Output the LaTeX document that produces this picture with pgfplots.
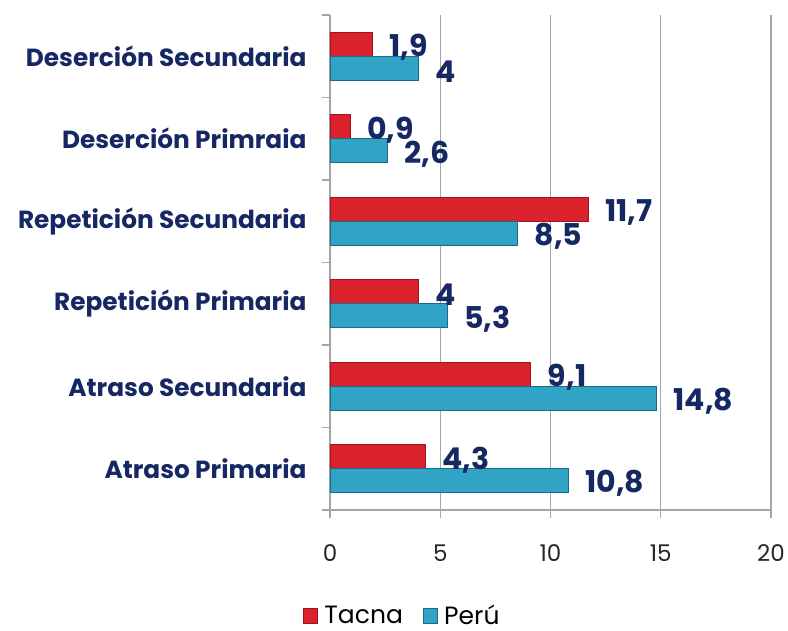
\documentclass[border=0pt]{standalone}
\usepackage{pgfplots}
\pgfplotsset{compat=1.18}
\usepackage{pgfplotstable}
\usepackage{fontspec}
\setmainfont{Poppins}
\definecolor{navy}{RGB}{22,40,100}
\definecolor{tacna}{RGB}{218,34,44}
\definecolor{tacnaedge}{RGB}{160,20,30}
\definecolor{peru}{RGB}{49,163,197}
\definecolor{peruedge}{RGB}{30,105,135}
\definecolor{gridgray}{RGB}{165,165,165}

\pgfplotstableread{
y x lab
0 4.3 4,3
1 9.1 9,1
2 4 4
3 11.7 11,7
4 0.9 0,9
5 1.9 1,9
}\tacnadata
\pgfplotstableread{
y x lab
0 10.8 10,8
1 14.8 14,8
2 5.3 5,3
3 8.5 8,5
4 2.6 2,6
5 4 4
}\perudata

\begin{document}
\begin{tikzpicture}
\useasboundingbox (-330bp,-121bp) rectangle (458bp,510bp);
\begin{axis}[
  at={(0,0)}, anchor=south west,
  scale only axis, width=441bp, height=495bp,
  xmin=0, xmax=20, ymin=-0.5, ymax=5.5,
  xbar, bar width=24bp,
  axis x line=bottom, axis y line=left,
  axis line style={-, draw=gridgray, line width=1.2pt},
  xtick={0,5,10,15,20},
  ytick={0,1,2,3,4,5},
  minor ytick={-0.5,0.5,1.5,2.5,3.5,4.5,5.5},
  yticklabels={Atraso Primaria, Atraso Secundaria, Repetición Primaria, Repetición Secundaria, Deserción Primraia, Deserción Secundaria},
  major tick length=8bp, minor tick length=8bp,
  tick align=outside,
  tick style={draw=gridgray, line width=1.2pt},
  major y tick style={draw=none},
  minor y tick style={draw=gridgray, line width=1.2pt},
  xmajorgrids, grid style={draw=gridgray, line width=1.2pt},
  /pgf/number format/assume math mode=true,
  xticklabel style={font=\fontsize{23bp}{27bp}\selectfont, text=black!85, yshift=-23bp},
  yticklabel style={font=\fontsize{24.8bp}{28bp}\selectfont\bfseries, text=navy, anchor=east, xshift=-12bp},
  point meta=explicit symbolic,
  nodes near coords,
  every node near coord/.append style={font=\fontsize{30bp}{34bp}\selectfont\bfseries, text=navy, anchor=west, inner sep=0pt, xshift=17bp, yshift=-3bp},
  legend columns=2,
  legend style={at={(axis description cs:0.164,-0.214)}, anchor=center, draw=none, fill=none,
    inner sep=0pt,
    font=\fontsize{25bp}{28bp}\selectfont, /tikz/every even column/.append style={column sep=18bp}},
  legend image code/.code={\draw[#1,line width=0.6pt] (0bp,-7.5bp) rectangle (14bp,7.5bp); \path[draw=none,fill=none] (0bp,0bp) rectangle (19bp,0.1bp);},
  clip=false,
]
\addplot[fill=tacna, draw=tacnaedge, line width=0.6pt, bar shift=12bp] table[x=x,y=y,meta=lab] {\tacnadata};
\addlegendentry{Tacna}
\addplot[fill=peru, draw=peruedge, line width=0.6pt, bar shift=-12bp] table[x=x,y=y,meta=lab] {\perudata};
\addlegendentry{Perú}
\end{axis}
\end{tikzpicture}
\end{document}
